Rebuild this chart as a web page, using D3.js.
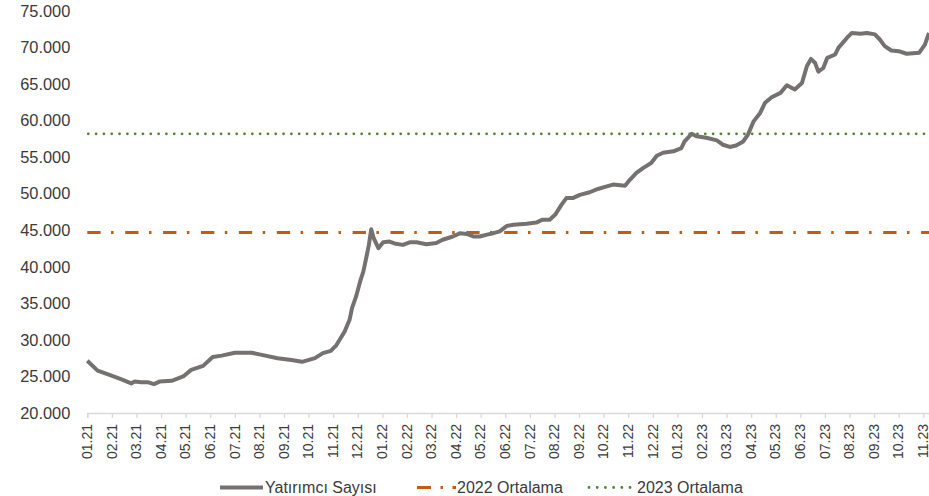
<!DOCTYPE html>
<html>
<head>
<meta charset="utf-8">
<script src="https://cdn.jsdelivr.net/npm/d3@7"></script>
<style>
  body { margin: 0; background: #fff; }
  text { font-family: "Liberation Sans", Arial, sans-serif; fill: #3a3a3a; }
</style>
</head>
<body>
<div id="chart"></div>
<script>
// Investor counts (date, value)
var dates = [
  "2021-01-01","2021-01-14","2021-01-29","2021-02-12","2021-02-23","2021-02-27","2021-03-07","2021-03-16",
  "2021-03-23","2021-03-30","2021-04-14","2021-04-28","2021-05-08","2021-05-23","2021-06-04","2021-06-15",
  "2021-07-01","2021-07-22","2021-08-04","2021-08-24","2021-09-10","2021-09-23","2021-10-09","2021-10-19",
  "2021-10-29","2021-11-05","2021-11-15","2021-11-21","2021-11-24","2021-11-29","2021-12-04","2021-12-08",
  "2021-12-12","2021-12-15","2021-12-18","2021-12-21","2021-12-27","2022-01-02","2022-01-10","2022-01-18",
  "2022-01-27","2022-02-04","2022-02-12","2022-02-23","2022-03-07","2022-03-15","2022-03-28","2022-04-06",
  "2022-04-14","2022-04-22","2022-04-30","2022-05-09","2022-05-17","2022-05-25","2022-06-03","2022-06-11",
  "2022-06-27","2022-07-09","2022-07-17","2022-07-26","2022-08-02","2022-08-10","2022-08-16","2022-08-24",
  "2022-09-02","2022-09-14","2022-09-24","2022-10-05","2022-10-13","2022-10-28","2022-11-03","2022-11-11",
  "2022-11-19","2022-11-29","2022-12-06","2022-12-14","2022-12-27","2023-01-06","2023-01-10","2023-01-19",
  "2023-01-25","2023-02-06","2023-02-18","2023-02-25","2023-03-05","2023-03-13","2023-03-22","2023-03-28",
  "2023-04-04","2023-04-12","2023-04-18","2023-04-26","2023-05-07","2023-05-15","2023-05-25","2023-06-03",
  "2023-06-09","2023-06-14","2023-06-19","2023-06-23","2023-06-29","2023-07-04","2023-07-14","2023-07-18",
  "2023-07-29","2023-08-04","2023-08-15","2023-08-23","2023-09-02","2023-09-08","2023-09-14","2023-09-22",
  "2023-10-01","2023-10-11","2023-10-27","2023-11-03","2023-11-08"
];
var investors = [
  27150,25800,25200,24600,24050,24300,24200,24200,
  23950,24300,24400,25000,25900,26450,27650,27850,
  28250,28250,27950,27500,27250,27000,27500,28200,
  28500,29300,31150,32750,34350,35950,38000,39350,
  41400,43000,45150,43950,42550,43350,43450,43150,
  43000,43350,43350,43100,43250,43700,44150,44600,
  44500,44150,44150,44400,44600,44850,45600,45750,
  45900,46050,46450,46450,47150,48500,49400,49400,
  49850,50200,50650,51000,51250,51100,51900,52850,
  53500,54200,55200,55600,55800,56250,57150,58200,
  57850,57650,57300,56700,56400,56600,57150,58100,
  59900,61050,62450,63200,63800,64850,64250,65150,
  67450,68450,67900,66700,67200,68600,69050,69950,
  71350,72000,71900,72000,71800,71100,70200,69600,
  69500,69150,69300,70400,72000
];

var avg2022 = 44700;
var avg2023 = 58200;

var monthLabels = [
  "01.21","02.21","03.21","04.21","05.21","06.21","07.21","08.21","09.21","10.21","11.21","12.21",
  "01.22","02.22","03.22","04.22","05.22","06.22","07.22","08.22","09.22","10.22","11.22","12.22",
  "01.23","02.23","03.23","04.23","05.23","06.23","07.23","08.23","09.23","10.23","11.23"
];
var yTicks = [20000,25000,30000,35000,40000,45000,50000,55000,60000,65000,70000,75000];

var legendNames = ["Yatırımcı Sayısı", "2022 Ortalama", "2023 Ortalama"];

var colGray = "#767171", colOrange = "#c55a11", colGreen = "#548235";

// Excel-style month axis: every month has the same width
function monthIndex(s) {
    var p = s.split("-").map(Number);
    var days = new Date(p[0], p[1], 0).getDate();
    return (p[0] - 2021) * 12 + (p[1] - 1) + (p[2] - 1) / days;
}

var width = 929, height = 496;
var plotLeft = 87.3, plotRight = 929, plotTop = 11, plotBottom = 413;

var svg = d3.select("#chart").append("svg")
    .attr("width", width)
    .attr("height", height);

var x = d3.scaleLinear()
    .domain([0, monthIndex(dates[dates.length - 1])])
    .range([plotLeft, plotRight]);

var y = d3.scaleLinear()
    .domain([20000, 75000])
    .range([plotBottom, plotTop]);

var trLocale = d3.formatLocale({ decimal: ",", thousands: ".", grouping: [3], currency: ["", ""] });
var fmt = trLocale.format(",");

// Y axis (labels only)
var yAxis = svg.append("g")
    .attr("transform", "translate(" + plotLeft + ",0)")
    .call(d3.axisLeft(y).tickValues(yTicks).tickSize(0).tickPadding(17).tickFormat(fmt));
yAxis.select(".domain").remove();
yAxis.selectAll("text")
    .style("font-size", "16.4px")
    .style("font-family", "'Liberation Sans', Arial, sans-serif")
    .attr("fill", "#3a3a3a");

// X axis with month ticks
var xAxis = svg.append("g")
    .attr("transform", "translate(0," + plotBottom + ")")
    .call(d3.axisBottom(x)
        .tickValues(d3.range(monthLabels.length))
        .tickSize(5)
        .tickFormat(function(i) { return monthLabels[i]; }));
xAxis.select(".domain").attr("stroke", "#d9d9d9").attr("stroke-width", 1.3);
xAxis.selectAll(".tick line").attr("stroke", "#d9d9d9").attr("stroke-width", 1.3);
xAxis.selectAll("text")
    .attr("transform", "rotate(-90)")
    .attr("text-anchor", "end")
    .attr("x", -11)
    .attr("y", 0)
    .attr("dy", "0.3em")
    .style("font-size", "14px")
    .style("font-family", "'Liberation Sans', Arial, sans-serif")
    .attr("fill", "#3a3a3a");

// Average lines
svg.append("line")
    .attr("x1", plotLeft).attr("x2", plotRight)
    .attr("y1", y(avg2022)).attr("y2", y(avg2022))
    .attr("stroke", colOrange)
    .attr("stroke-width", 3)
    .attr("stroke-dasharray", "13.3,10.5,2.5,11.6");

svg.append("line")
    .attr("x1", plotLeft + 1).attr("x2", plotRight)
    .attr("y1", y(avg2023)).attr("y2", y(avg2023))
    .attr("stroke", colGreen)
    .attr("stroke-width", 2.8)
    .attr("stroke-linecap", "round")
    .attr("stroke-dasharray", "0.01,7.8");

// Investor line
var data = dates.map(function(d, i) { return { m: monthIndex(d), v: investors[i] }; });
var line = d3.line()
    .x(function(d) { return x(d.m); })
    .y(function(d) { return y(d.v); });

svg.append("path")
    .datum(data)
    .attr("d", line)
    .attr("fill", "none")
    .attr("stroke", colGray)
    .attr("stroke-width", 4)
    .attr("stroke-linejoin", "round");

// Legend
var legY = 487.5;
var leg = svg.append("g");
leg.append("line")
    .attr("x1", 220).attr("x2", 263).attr("y1", legY).attr("y2", legY)
    .attr("stroke", colGray).attr("stroke-width", 4);
leg.append("text").attr("x", 265).attr("y", legY).attr("dy", "0.35em")
    .style("font-size", "16px").text(legendNames[0]);

leg.append("line")
    .attr("x1", 417).attr("x2", 456).attr("y1", legY).attr("y2", legY)
    .attr("stroke", colOrange).attr("stroke-width", 3)
    .attr("stroke-dasharray", "14,9.5,2.5,9.5");
leg.append("text").attr("x", 457).attr("y", legY).attr("dy", "0.35em")
    .style("font-size", "16px").text(legendNames[1]);

leg.append("line")
    .attr("x1", 589).attr("x2", 631).attr("y1", legY).attr("y2", legY)
    .attr("stroke", colGreen).attr("stroke-width", 2.8)
    .attr("stroke-linecap", "round")
    .attr("stroke-dasharray", "0.01,8.2");
leg.append("text").attr("x", 637).attr("y", legY).attr("dy", "0.35em")
    .style("font-size", "16px").text(legendNames[2]);
</script>
</body>
</html>
